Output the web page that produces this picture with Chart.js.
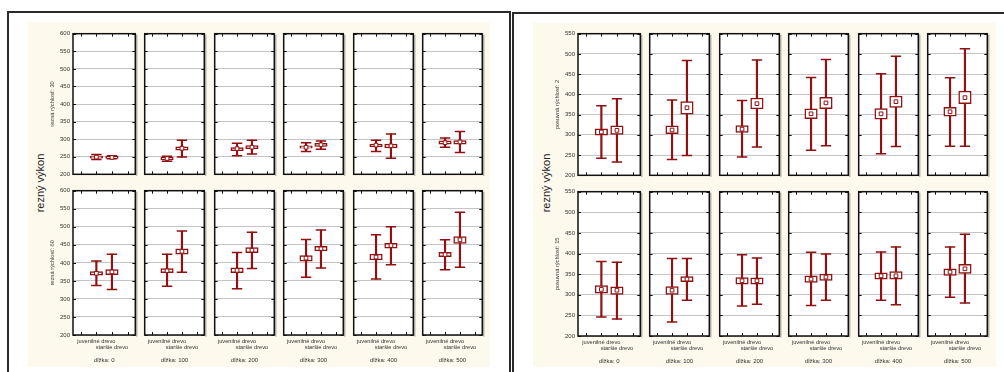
<!DOCTYPE html>
<html lang="sk">
<head>
<meta charset="utf-8">
<script src="https://cdn.jsdelivr.net/npm/chart.js@4.4.1/dist/chart.umd.min.js"></script>
<style>
html, body { margin: 0; background: #fff; }
#plocha { position: relative; width: 1004px; height: 372px; overflow: hidden; font-family: 'Liberation Sans', Arial, sans-serif; }
.ramec { position: absolute; border: 2px solid #2a2a2a; border-bottom: none; box-sizing: border-box; }
.kremova { position: absolute; background: #fdf9ec; }
.graf { position: absolute; }
.nadpis { position: absolute; font-size: 11px; color: #222; white-space: nowrap; transform: translate(-50%, -50%) rotate(-90deg); }
</style>
</head>
<body>
<div id="plocha">
    <div class="ramec" style="left:7px;top:11px;width:504px;height:400px"></div>
    <div class="ramec" style="left:512px;top:12px;width:520px;height:400px"></div>
    <div class="kremova" style="left:28px;top:22px;width:462px;height:345px"></div>
    <div class="kremova" style="left:533px;top:23px;width:463px;height:344px"></div>
    <div class="nadpis" style="left:40px;top:183px">rezný výkon</div>
    <div class="nadpis" style="left:546px;top:183px">rezný výkon</div>
</div>
<script>
const dlzky = [0, 100, 200, 300, 400, 500];
const drevo = ['juvenilné drevo', 'staršie drevo'];
const osRezna = [200, 250, 300, 350, 400, 450, 500, 550, 600];
const osPosuvna = [200, 250, 300, 350, 400, 450, 500, 550];

// poradie: dĺžka 0 juvenilné, dĺžka 0 staršie, dĺžka 100 juvenilné, ...
// rezná rýchlosť: 30
const r30Stred = [249, 248, 245, 274, 273, 277, 277, 284, 283, 281, 290, 292];
const r30BoxDole = [246, 245, 241, 269, 267, 273, 274, 279, 278, 275, 286, 286];
const r30BoxHore = [252, 251, 248, 278, 276, 282, 281, 288, 286, 286, 295, 296];
const r30FuzDole = [242, 244, 237, 249, 253, 258, 265, 271, 265, 246, 277, 262];
const r30FuzHore = [256, 253, 251, 297, 288, 297, 290, 295, 297, 315, 303, 322];

// rezná rýchlosť: 60
const r60Stred = [371, 375, 378, 432, 379, 435, 413, 439, 416, 448, 423, 464];
const r60BoxDole = [366, 367, 373, 424, 373, 428, 405, 433, 408, 441, 417, 454];
const r60BoxHore = [376, 381, 384, 439, 386, 442, 420, 446, 424, 454, 429, 473];
const r60FuzDole = [337, 326, 335, 374, 328, 384, 360, 386, 355, 395, 381, 388];
const r60FuzHore = [405, 424, 424, 488, 429, 485, 465, 491, 478, 500, 464, 540];

// posuvná rýchlosť: 2
const p2Stred = [307, 311, 312, 367, 314, 377, 352, 379, 352, 382, 357, 392];
const p2BoxDole = [299, 301, 303, 351, 306, 364, 340, 365, 339, 368, 346, 377];
const p2BoxHore = [315, 322, 322, 382, 323, 391, 364, 393, 365, 396, 368, 408];
const p2FuzDole = [242, 233, 239, 249, 245, 270, 262, 273, 253, 271, 272, 272];
const p2FuzHore = [372, 389, 386, 484, 385, 485, 442, 486, 451, 494, 441, 513];

// posuvná rýchlosť: 15
const p15Stred = [313, 311, 311, 338, 334, 334, 338, 343, 346, 346, 355, 363];
const p15BoxDole = [304, 301, 301, 332, 326, 326, 330, 335, 338, 338, 347, 352];
const p15BoxHore = [322, 319, 320, 344, 342, 341, 346, 350, 353, 356, 363, 374];
const p15FuzDole = [246, 241, 234, 287, 273, 277, 274, 287, 287, 276, 294, 280];
const p15FuzHore = [381, 379, 388, 388, 397, 389, 403, 399, 404, 416, 416, 447];

const CERVENA = '#8f1111';
const PAD = 4;
const SIRKA = 65;
const KROK = 69.4;
const OS_Y = 24;
const OS_X = 29;

Chart.defaults.font.family = "'Liberation Sans', Arial, sans-serif";
Chart.defaults.color = '#333';

const riadky = [
    { x0: 73, top: 31, vyska: 146, os: osRezna, titul: 'rezná rýchlosť: 30', dole: false,
      stred: r30Stred, boxDole: r30BoxDole, boxHore: r30BoxHore, fuzDole: r30FuzDole, fuzHore: r30FuzHore },
    { x0: 73, top: 188, vyska: 147, os: osRezna, titul: 'rezná rýchlosť: 60', dole: true,
      stred: r60Stred, boxDole: r60BoxDole, boxHore: r60BoxHore, fuzDole: r60FuzDole, fuzHore: r60FuzHore },
    { x0: 578, top: 31, vyska: 147, os: osPosuvna, titul: 'posuvná rýchlosť: 2', dole: false,
      stred: p2Stred, boxDole: p2BoxDole, boxHore: p2BoxHore, fuzDole: p2FuzDole, fuzHore: p2FuzHore },
    { x0: 578, top: 189, vyska: 147, os: osPosuvna, titul: 'posuvná rýchlosť: 15', dole: true,
      stred: p15Stred, boxDole: p15BoxDole, boxHore: p15BoxHore, fuzDole: p15FuzDole, fuzHore: p15FuzHore },
];

// biele pozadie, rám a vnútorné značky osí
const ramik = {
    id: 'ramik',
    beforeDraw(chart) {
        const { ctx, chartArea: a } = chart;
        ctx.save();
        ctx.fillStyle = '#fff';
        ctx.fillRect(a.left, a.top, a.width, a.height);
        ctx.restore();
    },
    afterDraw(chart) {
        const { ctx, chartArea: a, scales: { x, y } } = chart;
        ctx.save();
        ctx.strokeStyle = '#111';
        ctx.lineWidth = 1;
        ctx.beginPath();
        y.ticks.forEach((t, i) => {
            const py = Math.round(y.getPixelForTick(i)) + 0.5;
            ctx.moveTo(a.left, py);
            ctx.lineTo(a.left + 3, py);
            ctx.moveTo(a.right - 3, py);
            ctx.lineTo(a.right, py);
        });
        x.ticks.forEach((t, i) => {
            const px = Math.round(x.getPixelForTick(i)) + 0.5;
            ctx.moveTo(px, a.top);
            ctx.lineTo(px, a.top + 3);
            ctx.moveTo(px, a.bottom - 3);
            ctx.lineTo(px, a.bottom);
        });
        ctx.stroke();
        ctx.lineWidth = 1.5;
        ctx.strokeRect(a.left, a.top, a.width, a.height);
        ctx.strokeStyle = '#8a8a8a';
        ctx.lineWidth = 1;
        ctx.beginPath();
        ctx.moveTo(a.right + 1.5, a.top + 1);
        ctx.lineTo(a.right + 1.5, a.bottom + 1.5);
        ctx.stroke();
        ctx.restore();
    },
};

const plocha = document.getElementById('plocha');

riadky.forEach((r) => {
    dlzky.forEach((d, i) => {
        const prvy = i === 0;
        const yW = prvy ? OS_Y : 0;
        const xH = r.dole ? OS_X : 0;
        const left = r.x0 + Math.round(i * KROK);
        const w = PAD + yW + SIRKA + PAD;
        const h = PAD + r.vyska + xH + PAD;

        const canvas = document.createElement('canvas');
        canvas.width = w;
        canvas.height = h;
        canvas.className = 'graf';
        canvas.style.cssText = `left:${left - PAD - yW}px;top:${r.top - PAD}px;width:${w}px;height:${h}px`;
        plocha.appendChild(canvas);

        const a = 2 * i;
        const b = 2 * i + 1;
        const vyber = (arr) => [null, arr[a], arr[b], null];
        const rozsah = (lo, hi) => [null, [lo[a], hi[a]], [lo[b], hi[b]], null];

        new Chart(canvas, {
            type: 'bar',
            data: {
                labels: ['', drevo[0], drevo[1], ''],
                datasets: [
                    {
                        type: 'line',
                        data: vyber(r.stred),
                        showLine: false,
                        pointStyle: 'rect',
                        pointRadius: 2.6,
                        pointBackgroundColor: '#fff',
                        pointBorderColor: CERVENA,
                        pointBorderWidth: 1,
                        order: 0,
                    },
                    {
                        type: 'line',
                        data: vyber(r.fuzHore),
                        showLine: false,
                        pointStyle: 'line',
                        pointRadius: 5.2,
                        pointBorderColor: CERVENA,
                        pointBorderWidth: 1.5,
                        order: 1,
                    },
                    {
                        type: 'line',
                        data: vyber(r.fuzDole),
                        showLine: false,
                        pointStyle: 'line',
                        pointRadius: 5.2,
                        pointBorderColor: CERVENA,
                        pointBorderWidth: 1.5,
                        order: 1,
                    },
                    {
                        data: rozsah(r.boxDole, r.boxHore),
                        backgroundColor: '#fff',
                        borderColor: CERVENA,
                        borderWidth: 1.5,
                        borderSkipped: false,
                        barThickness: 12.5,
                        grouped: false,
                        order: 2,
                    },
                    {
                        data: rozsah(r.fuzDole, r.fuzHore),
                        backgroundColor: CERVENA,
                        borderWidth: 0,
                        barThickness: 1.5,
                        grouped: false,
                        order: 3,
                    },
                ],
            },
            options: {
                responsive: false,
                animation: false,
                devicePixelRatio: 1,
                events: [],
                layout: { padding: PAD },
                plugins: { legend: { display: false }, tooltip: { enabled: false } },
                scales: {
                    x: {
                        offset: true,
                        grid: { display: false, drawTicks: false },
                        border: { display: false },
                        ticks: {
                            display: r.dole,
                            autoSkip: false,
                            maxRotation: 0,
                            minRotation: 0,
                            padding: 4,
                            font: { size: 5.7, lineHeight: 1 },
                            callback: (v, k) => (k === 2 ? ['', drevo[1]] : k === 1 ? drevo[0] : ''),
                        },
                        title: { display: r.dole, text: `dĺžka: ${d}`, padding: 0, font: { size: 6 } },
                        afterFit: (s) => {
                            s.height = xH;
                            s.paddingLeft = 0;
                            s.paddingRight = 0;
                        },
                    },
                    y: {
                        min: r.os[0],
                        max: r.os[r.os.length - 1],
                        ticks: { stepSize: r.os[1] - r.os[0], display: prvy, padding: 3, font: { size: 6 } },
                        grid: { color: '#c4c4c4', drawTicks: false, lineWidth: 1 },
                        border: { display: false },
                        title: { display: prvy, text: r.titul, padding: 0, font: { size: 5.7 } },
                        afterFit: (s) => {
                            s.width = yW;
                            s.paddingTop = 0;
                            s.paddingBottom = 0;
                        },
                    },
                },
            },
            plugins: [ramik],
        });
    });
});
</script>
</body>
</html>
